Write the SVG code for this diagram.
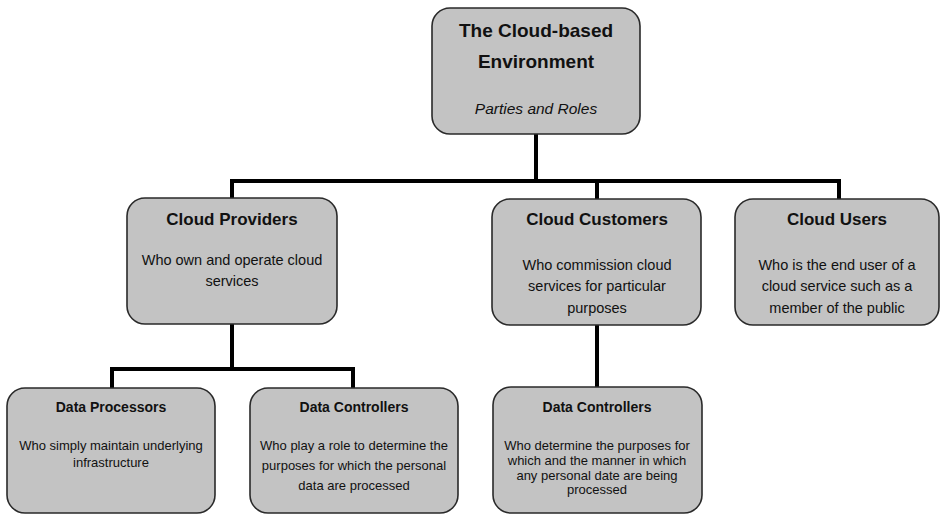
<svg xmlns="http://www.w3.org/2000/svg" width="942" height="515" viewBox="0 0 942 515">
  <style>
    .box { fill: #c3c3c3; stroke: #2a2a2a; stroke-width: 1.6; }
    .wire { fill: none; stroke: #000; stroke-width: 4; stroke-linejoin: miter; stroke-linecap: square; }
    text { font-family: "Liberation Sans", Arial, sans-serif; fill: #111; text-anchor: middle; }
    .h1 { font-size: 19px; font-weight: bold; }
    .sub { font-size: 15.5px; font-style: italic; }
    .h2 { font-size: 17px; font-weight: bold; }
    .b2 { font-size: 14.5px; }
    .h3 { font-size: 14px; font-weight: bold; }
    .b3 { font-size: 13px; }
  </style>

  <!-- tree connectors -->
  <g id="connectors">
    <path class="wire" d="M536 135 V181 M232 199 V181 H839 V199 M597 181 V199"/>
    <path class="wire" d="M232 324 V369 M112 388 V369 H353 V388"/>
    <path class="wire" d="M597 325 V387"/>
  </g>

  <g id="root">
    <rect class="box" x="432" y="8" width="208" height="126" rx="18"/>
    <text class="h1" x="536" y="37">The Cloud-based</text>
    <text class="h1" x="536" y="68">Environment</text>
    <text class="sub" x="536" y="114">Parties and Roles</text>
  </g>

  <g id="cloud-providers">
    <rect class="box" x="127" y="198" width="210" height="126" rx="18"/>
    <text class="h2" x="232" y="225">Cloud Providers</text>
    <text class="b2" x="232" y="265">Who own and operate cloud</text>
    <text class="b2" x="232" y="286">services</text>
  </g>

  <g id="cloud-customers">
    <rect class="box" x="492" y="199" width="209" height="126" rx="18"/>
    <text class="h2" x="597" y="225">Cloud Customers</text>
    <text class="b2" x="597" y="270">Who commission cloud</text>
    <text class="b2" x="597" y="291">services for particular</text>
    <text class="b2" x="597" y="313">purposes</text>
  </g>

  <g id="cloud-users">
    <rect class="box" x="735" y="199" width="204" height="126" rx="18"/>
    <text class="h2" x="837" y="225">Cloud Users</text>
    <text class="b2" x="837" y="270">Who is the end user of a</text>
    <text class="b2" x="837" y="291">cloud service such as a</text>
    <text class="b2" x="837" y="313">member of the public</text>
  </g>

  <g id="data-processors">
    <rect class="box" x="7" y="388" width="208" height="125" rx="18"/>
    <text class="h3" x="111" y="412">Data Processors</text>
    <text class="b3" x="111" y="450">Who simply maintain underlying</text>
    <text class="b3" x="111" y="467">infrastructure</text>
  </g>

  <g id="provider-data-controllers">
    <rect class="box" x="250" y="388" width="208" height="125" rx="18"/>
    <text class="h3" x="354" y="412">Data Controllers</text>
    <text class="b3" x="354" y="450">Who play a role to determine the</text>
    <text class="b3" x="354" y="470">purposes for which the personal</text>
    <text class="b3" x="354" y="490">data are processed</text>
  </g>

  <g id="customer-data-controllers">
    <rect class="box" x="493" y="387" width="209" height="126" rx="18"/>
    <text class="h3" x="597" y="412">Data Controllers</text>
    <text class="b3" x="597" y="450">Who determine the purposes for</text>
    <text class="b3" x="597" y="465">which and the manner in which</text>
    <text class="b3" x="597" y="480">any personal date are being</text>
    <text class="b3" x="597" y="494">processed</text>
  </g>
</svg>
